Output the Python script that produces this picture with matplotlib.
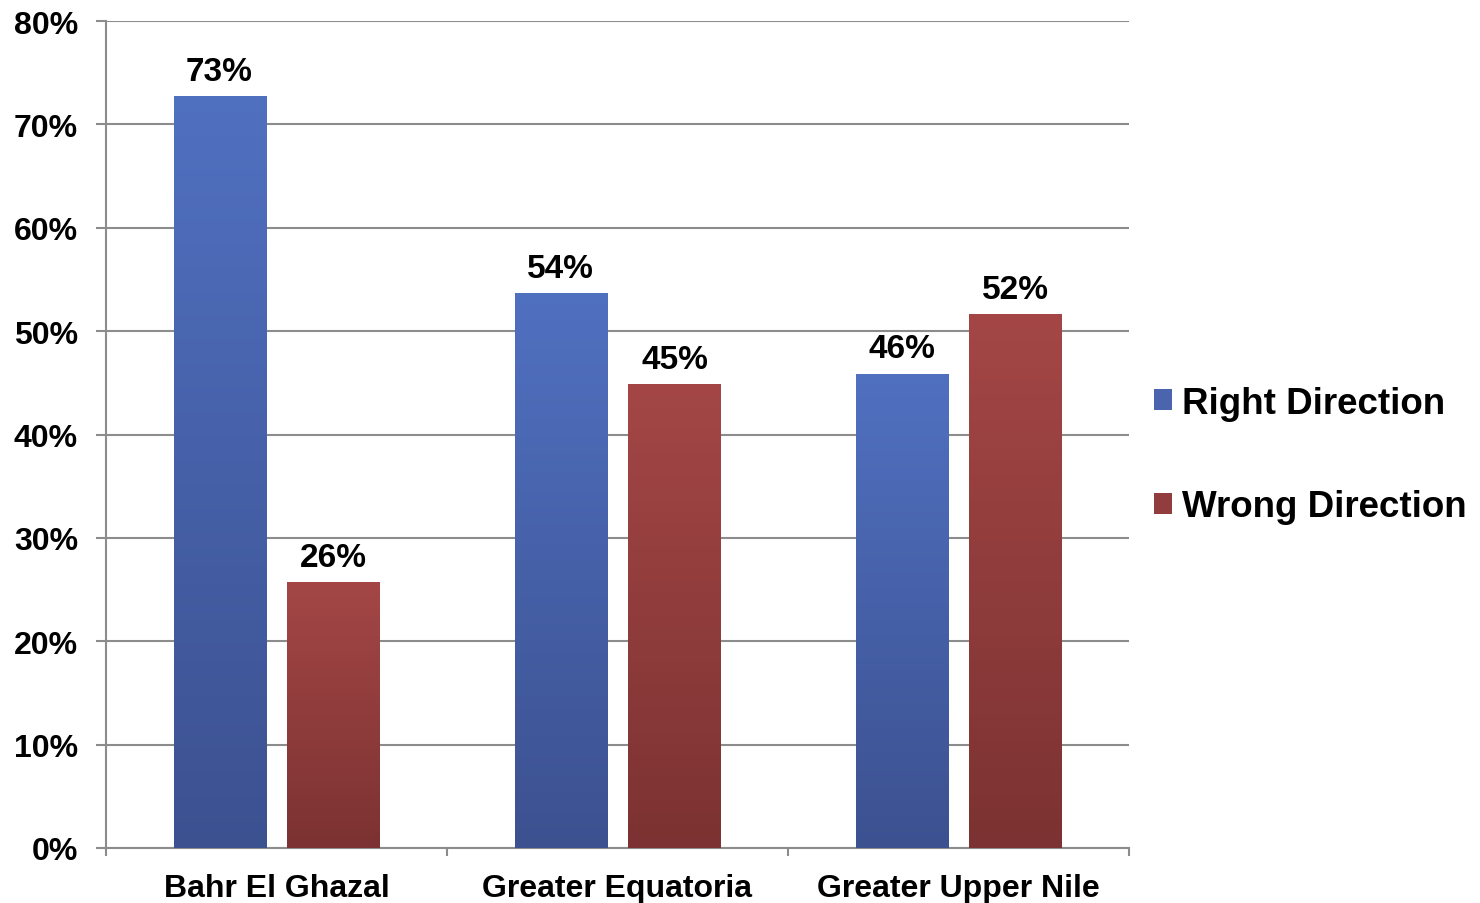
"""Right vs wrong direction by region, grouped bar chart."""

import matplotlib

matplotlib.use("Agg")

import matplotlib.pyplot as plt
import numpy as np
from matplotlib.colors import LinearSegmentedColormap
from matplotlib.patches import Patch

regions = ["Bahr El Ghazal", "Greater Equatoria", "Greater Upper Nile"]
right_direction = [72.7, 53.7, 45.9]
wrong_direction = [25.7, 44.9, 51.7]
series_names = ["Right Direction", "Wrong Direction"]

plt.rcParams["font.family"] = ["Liberation Sans", "DejaVu Sans"]
plt.rcParams["font.weight"] = "bold"

# top / bottom colours of the vertical gradient on each series
blue_grad = ("#5070C0", "#3C5190")
red_grad = ("#A44646", "#7C3232")
grid_col = "#8C8C8C"

fig = plt.figure(figsize=(14.8, 9.04), dpi=100)
ax = fig.add_axes([106 / 1480, 1 - 849 / 904, (1129 - 106) / 1480, (849 - 22) / 904])

x = np.arange(len(regions))
width = 0.27
offset = 0.167


def gradient_bars(xpos, values, colors):
    bars = ax.bar(xpos, values, width, color=colors[1], zorder=3, linewidth=0)
    cmap = LinearSegmentedColormap.from_list("g", [colors[1], colors[0]])
    grad = np.linspace(0, 1, 256).reshape(-1, 1)
    for b in bars:
        x0, y0 = b.get_x(), b.get_y()
        im = ax.imshow(grad, cmap=cmap, aspect="auto", origin="lower",
                       extent=(x0, x0 + b.get_width(), y0, y0 + b.get_height()),
                       zorder=4)
        im.set_clip_path(b)
    for b, v in zip(bars, values):
        ax.annotate(f"{v:.0f}%", (b.get_x() + b.get_width() / 2, v),
                    xytext=(0, 6.5), textcoords="offset points",
                    ha="center", va="bottom", fontsize=24, fontweight="bold",
                    zorder=5)
    return bars


gradient_bars(x - offset, right_direction, blue_grad)
gradient_bars(x + offset, wrong_direction, red_grad)

ax.set_xlim(-0.5, len(regions) - 0.5)
ax.set_ylim(0, 80)
ax.set_yticks(np.arange(0, 81, 10))
ax.set_yticklabels([f"{v}%" for v in range(0, 81, 10)], fontsize=23,
                   fontweight="bold")
ax.set_xticks(np.arange(-0.5, len(regions), 1.0))
ax.set_xticklabels([])
ax.set_xticks(x, minor=True)
ax.set_xticklabels(regions, minor=True, fontsize=23, fontweight="bold")
ax.tick_params(axis="x", which="minor", length=0, pad=18)
ax.tick_params(axis="x", which="major", length=6, width=1.5, color=grid_col,
               direction="out")
ax.tick_params(axis="y", length=7.2, width=1.5, color=grid_col, pad=13)

ax.grid(axis="y", color=grid_col, linewidth=1.5, zorder=0)
ax.set_axisbelow(True)
for s in ["top", "right"]:
    ax.spines[s].set_visible(False)
for s in ["left", "bottom"]:
    ax.spines[s].set_color(grid_col)
    ax.spines[s].set_linewidth(1.5)

handles = [Patch(facecolor="#4A65AE", label=series_names[0]),
           Patch(facecolor="#923D3D", label=series_names[1])]
fig.legend(handles=handles, loc="center left",
           bbox_to_anchor=(1154 / 1480, 1 - 456 / 904), frameon=False,
           prop={"weight": "bold", "size": 26.5},
           handlelength=0.5, handleheight=0.5, handletextpad=0.27,
           labelspacing=1.87, borderaxespad=0, borderpad=0)

fig.savefig("out.png", dpi=100)
